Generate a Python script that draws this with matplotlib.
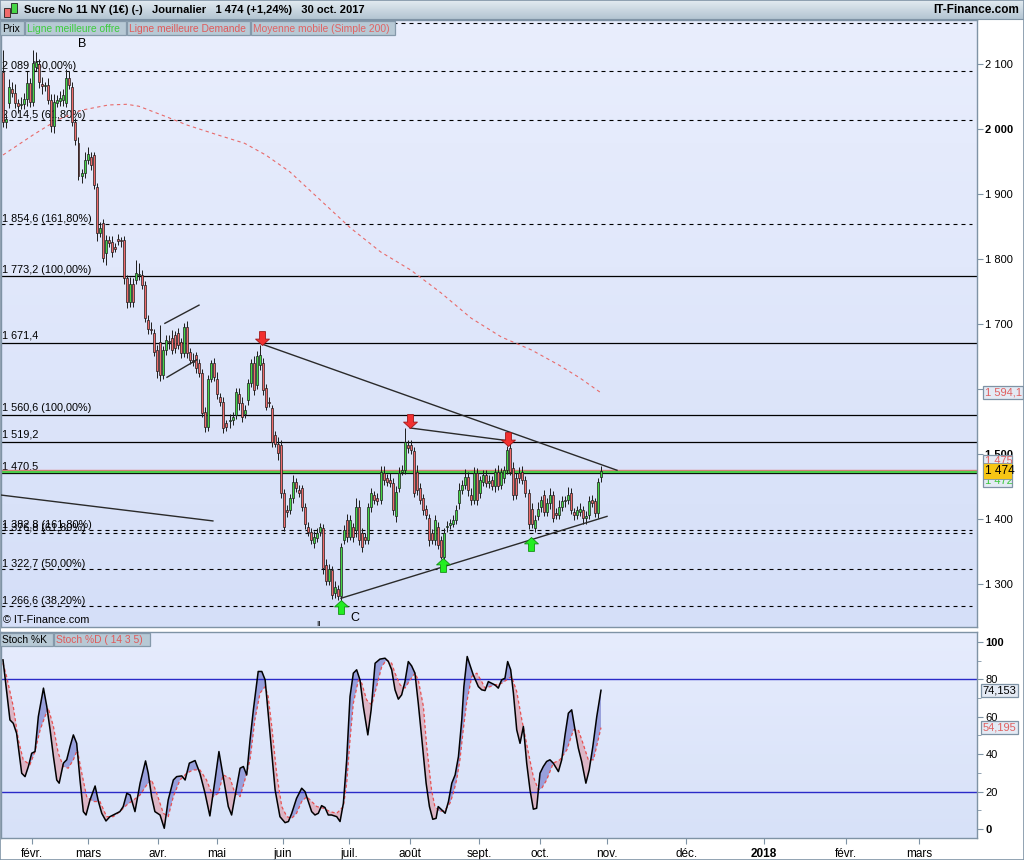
import numpy as np
import matplotlib
matplotlib.use("Agg")
import matplotlib.pyplot as plt
from matplotlib.patches import Rectangle, Polygon
from matplotlib.path import Path
from matplotlib.markers import MarkerStyle
from matplotlib.transforms import blended_transform_factory

plt.rcParams['font.family'] = ['Liberation Sans', 'DejaVu Sans']

# -- Daily candles (Sucre No 11 NY), one value per trading day --
opens = [2088, 2011, 2040, 2062, 2055, 2040, 2037, 2039, 2046, 2071,
         2042, 2096, 2100, 2070, 2066, 2067, 2045, 2004, 2040, 2043,
         2044, 2040, 2078, 2065, 2011, 1978, 1927, 1932, 1952, 1957,
         1960, 1911, 1840, 1855, 1809, 1829, 1826, 1819, 1830, 1829,
         1829, 1770, 1734, 1762, 1768, 1775, 1775, 1760, 1706, 1693,
         1686, 1660, 1673, 1621, 1660, 1673, 1678, 1683, 1686, 1673,
         1655, 1696, 1657, 1645, 1652, 1640, 1624, 1565, 1542, 1616,
         1640, 1616, 1588, 1580, 1547, 1550, 1552, 1560, 1593, 1578,
         1562, 1583, 1609, 1640, 1606, 1637, 1640, 1601, 1580, 1570,
         1529, 1516, 1514, 1440, 1414, 1414, 1432, 1457, 1445, 1447,
         1419, 1388, 1380, 1363, 1370, 1380, 1386, 1329, 1304, 1322,
         1286, 1293, 1281, 1368, 1398, 1373, 1388, 1383, 1419, 1378,
         1373, 1368, 1419, 1437, 1432, 1429, 1470, 1463, 1460, 1455,
         1404, 1447, 1473, 1475, 1514, 1514, 1504, 1473, 1447, 1432,
         1416, 1401, 1378, 1368, 1388, 1368, 1342, 1388, 1391, 1393,
         1398, 1424, 1445, 1452, 1465, 1437, 1429, 1470, 1440, 1457,
         1468, 1455, 1460, 1450, 1473, 1452, 1463, 1475, 1509, 1478,
         1463, 1470, 1473, 1460, 1440, 1416, 1386, 1404, 1419, 1437,
         1411, 1424, 1437, 1409, 1406, 1419, 1427, 1429, 1440, 1411,
         1406, 1411, 1414, 1401, 1406, 1429, 1427, 1409, 1465]
closes = [2011, 2015, 2065, 2055, 2040, 2035, 2039, 2046, 2071, 2042,
          2101, 2103, 2073, 2066, 2067, 2045, 2004, 2042, 2045, 2048,
          2052, 2078, 2068, 2011, 1983, 1927, 1932, 1952, 1962, 1945,
          1914, 1840, 1847, 1801, 1829, 1824, 1811, 1816, 1827, 1827,
          1770, 1734, 1762, 1734, 1778, 1776, 1760, 1709, 1693, 1691,
          1657, 1627, 1621, 1660, 1675, 1672, 1660, 1663, 1668, 1655,
          1696, 1655, 1645, 1642, 1632, 1624, 1563, 1542, 1616, 1640,
          1619, 1593, 1580, 1540, 1542, 1552, 1557, 1596, 1578, 1557,
          1568, 1609, 1640, 1598, 1650, 1652, 1598, 1573, 1578, 1519,
          1516, 1501, 1440, 1388, 1411, 1432, 1457, 1447, 1440, 1419,
          1393, 1380, 1368, 1373, 1378, 1388, 1324, 1304, 1323, 1283,
          1296, 1281, 1357, 1383, 1373, 1398, 1373, 1419, 1368, 1357,
          1368, 1419, 1440, 1429, 1427, 1473, 1460, 1457, 1455, 1414,
          1442, 1470, 1475, 1519, 1509, 1506, 1440, 1445, 1429, 1414,
          1406, 1368, 1368, 1398, 1360, 1342, 1378, 1389, 1394, 1398,
          1414, 1445, 1452, 1465, 1445, 1429, 1470, 1429, 1460, 1468,
          1455, 1458, 1450, 1473, 1450, 1473, 1475, 1506, 1473, 1437,
          1437, 1463, 1460, 1440, 1393, 1393, 1398, 1416, 1429, 1411,
          1424, 1437, 1401, 1406, 1419, 1427, 1429, 1437, 1414, 1406,
          1414, 1416, 1401, 1404, 1427, 1424, 1409, 1457, 1474]
wick_up = [33, 8, 12, 10, 14, 6, 10, 9, 18, 8,
           20, 15, 8, 10, 6, 12, 9, 12, 8, 10,
           10, 14, 12, 8, 6, 10, 6, 12, 10, 8,
           5, 6, 10, 6, 8, 6, 10, 6, 8, 5,
           6, 5, 10, 8, 20, 18, 8, 6, 8, 10,
           6, 8, 25, 6, 8, 10, 12, 6, 8, 5,
           6, 8, 6, 10, 5, 6, 6, 8, 6, 5,
           8, 10, 6, 8, 6, 10, 8, 6, 8, 10,
           8, 6, 6, 10, 8, 16, 8, 6, 8, 6,
           6, 10, 8, 6, 8, 6, 10, 6, 8, 6,
           6, 8, 6, 8, 8, 6, 6, 10, 8, 6,
           8, 6, 6, 8, 10, 8, 6, 14, 10, 8,
           6, 6, 8, 6, 8, 8, 12, 6, 10, 8,
           8, 10, 8, 21, 8, 8, 6, 10, 8, 6,
           6, 6, 6, 8, 8, 6, 8, 8, 6, 8,
           8, 10, 8, 12, 8, 10, 10, 8, 6, 8,
           8, 10, 6, 6, 10, 6, 6, 6, 8, 10,
           8, 10, 8, 6, 6, 8, 8, 10, 6, 8,
           8, 10, 6, 8, 10, 8, 6, 12, 8, 6,
           6, 8, 6, 8, 8, 8, 6, 6, 8]
wick_dn = [8, 10, 8, 6, 8, 10, 6, 8, 10, 8,
           6, 6, 10, 12, 8, 6, 8, 10, 6, 8,
           8, 6, 6, 6, 8, 6, 10, 8, 6, 8,
           6, 12, 6, 6, 18, 6, 8, 6, 6, 8,
           8, 10, 8, 8, 6, 8, 6, 6, 8, 6,
           6, 10, 8, 6, 8, 10, 6, 8, 6, 8,
           6, 8, 6, 6, 8, 6, 6, 8, 6, 6,
           6, 8, 6, 8, 6, 10, 8, 6, 10, 8,
           6, 8, 6, 8, 6, 8, 8, 6, 6, 8,
           6, 10, 8, 6, 8, 6, 8, 6, 6, 6,
           8, 6, 6, 8, 6, 6, 8, 6, 6, 6,
           8, 6, 8, 6, 8, 6, 8, 10, 8, 8,
           6, 6, 8, 6, 6, 6, 8, 6, 6, 8,
           8, 6, 6, 6, 8, 6, 6, 8, 6, 8,
           6, 10, 6, 8, 6, 4, 6, 8, 6, 6,
           6, 8, 6, 6, 10, 8, 6, 8, 8, 6,
           6, 8, 6, 8, 6, 6, 8, 6, 6, 8,
           6, 8, 6, 6, 8, 7, 6, 6, 8, 6,
           6, 8, 6, 6, 6, 6, 8, 6, 6, 8,
           6, 6, 8, 8, 6, 6, 6, 8, 8]

# -- Moyenne mobile (Simple 200) --
ma_bars = [0, 10, 18, 26, 35, 41, 45, 54, 61, 71, 80, 87, 95, 105, 115,
           125, 135, 145, 155, 165, 175, 184, 191, 198]
ma_vals = [1960, 1991, 2014, 2029, 2037, 2038, 2035, 2019, 2006, 1991, 1978,
           1960, 1934, 1891, 1848, 1811, 1783, 1748, 1709, 1680, 1660, 1637,
           1617, 1594.1]

# -- Horizontal levels drawn on the chart --
dashed_levels = [2163, 2089, 2014.5, 1854.6, 1382.8, 1378.6, 1322.7, 1266.6]
dashed_labels = ["", "2 089 (50,00%)", "2 014,5 (61,80%)", "1 854,6 (161,80%)",
                 "1 382,8 (161,80%)", "1 376,8 (61,80%)", "1 322,7 (50,00%)",
                 "1 266,6 (38,20%)"]
solid_levels = [1773.2, 1671.4, 1560.6, 1519.2, 1470.5]
solid_labels = ["1 773,2 (100,00%)", "1 671,4", "1 560,6 (100,00%)",
                "1 519,2", "1 470,5"]
best_ask = 1475
best_bid = 1472
last_price = 1474

# -- Trend lines (bar, price) -> (bar, price) --
trend_lines = [((85.8, 1669), (203.3, 1475)),
               ((134.8, 1540), (167.9, 1520)),
               ((111.9, 1278), (200.0, 1404)),
               ((-1.0, 1437), (69.5, 1397)),
               ((53.6, 1701), (64.9, 1729)),
               ((54.3, 1618), (64.2, 1645))]
arrow_dn_bars = [85.8, 134.8, 167.2]
arrow_dn_prices = [1667, 1540, 1512]
arrow_up_bars = [111.9, 145.7, 174.8]
arrow_up_prices = [1275, 1340, 1372]
wave_labels = ["B", "C", "II"]
wave_bars = [26.2, 116.6, 104.6]
wave_prices = [2131, 1248, 1238]

# -- Stochastique (14 3 5) --
stoch_k_bars = [0, 2.3, 3.4, 4.5, 6.2, 7.3, 8.4, 9.5, 10.6, 11.7, 13.4, 14.5, 15.6, 16.7,
                17.8, 18.6, 20.0, 21.1, 22.2, 23.3, 24.4, 25.5, 26.6, 27.5, 28.8, 30.5,
                31.6, 32.7, 34.1, 35.4, 36.5, 37.6, 38.7, 39.8, 41.0, 42.1, 43.7, 45.4,
                47.2, 48.1, 49.2, 50.3, 52.0, 53.4, 54.7, 56.4, 57.5, 59.2, 60.3, 61.7,
                63.6, 65.2, 66.9, 68.5, 70.2, 71.5, 72.9, 74.6, 75.7, 76.8, 78.5, 79.6,
                80.7, 81.8, 82.9, 84.5, 85.7, 86.8, 87.8, 89.0, 90.1, 91.7, 93.4, 94.5,
                95.6, 97.2, 98.9, 100.0, 101.1, 102.2, 103.3, 104.4, 105.5, 106.6, 107.7,
                108.8, 110.5, 111.6, 112.7, 113.8, 114.9, 116.0, 117.1, 118.2, 119.3,
                120.8, 121.9, 123.2, 124.8, 126.5, 127.6, 128.7, 129.8, 130.9, 132.0,
                133.1, 134.2, 135.3, 136.4, 137.5, 138.6, 140.1, 141.2, 142.3, 143.4,
                144.1, 145.3, 146.4, 147.5, 148.6, 149.7, 150.8, 151.9, 152.6, 153.7,
                154.6, 155.7, 157.4, 158.5, 159.6, 160.7, 161.8, 162.9, 164.0, 165.1,
                166.2, 167.1, 168.1, 169.0, 170.1, 171.2, 172.3, 173.4, 174.5, 175.6,
                176.7, 177.8, 178.9, 180.0, 181.1, 182.2, 183.9, 185.0, 186.1, 187.2,
                188.3, 189.4, 190.5, 191.6, 193.0, 194.1, 195.3, 196.6, 198.0]
stoch_k = [90.4, 58.3, 56.5, 51.2, 29.8, 28.0, 33.4, 40.5, 41.4, 60.1, 75.3, 65.5, 53.0,
           38.7, 26.2, 24.5, 35.2, 37.0, 44.1, 50.3, 45.8, 26.2, 9.3, 7.5, 15.5, 23.0,
           14.7, 8.4, 4.3, 6.6, 7.5, 8.4, 9.3, 12.0, 19.1, 18.2, 9.3, 24.5, 36.4, 29.8,
           17.3, 9.3, 7.5, 0.4, 15.5, 26.2, 28.0, 28.4, 26.2, 35.2, 36.6, 29.8, 19.1,
           7.0, 26.2, 41.4, 28.0, 12.0, 7.5, 17.3, 32.5, 33.4, 28.9, 47.6, 63.7, 84.2,
           84.2, 79.7, 61.9, 40.5, 20.9, 6.6, 3.4, 4.0, 8.4, 16.4, 21.8, 20.0, 14.7,
           9.3, 7.5, 8.4, 12.5, 11.5, 7.5, 7.5, 6.6, 4.0, 13.8, 37.0, 70.8, 83.3, 85.1,
           79.7, 65.5, 50.3, 63.7, 88.6, 90.8, 91.3, 89.5, 85.1, 74.4, 69.4, 71.7, 78.8,
           89.5, 87.2, 83.3, 67.2, 49.4, 24.5, 12.0, 5.2, 5.7, 12.0, 10.2, 8.4, 14.7,
           24.5, 28.9, 38.7, 58.3, 76.1, 92.2, 87.7, 82.4, 76.1, 74.4, 74.0, 78.8, 77.9,
           77.0, 75.3, 79.7, 80.6, 89.5, 85.1, 72.6, 53.0, 45.8, 54.8, 35.2, 20.9, 10.6,
           11.1, 29.8, 33.4, 36.1, 37.0, 35.2, 30.7, 37.0, 50.3, 61.9, 63.7, 53.0, 43.2,
           36.1, 24.5, 31.6, 44.1, 60.1, 74.153]
stoch_d_bars = [0, 1.2, 3.4, 5.1, 6.7, 8.9, 10.6, 12.3, 13.9, 15.0, 16.7, 18.3, 20.0, 21.6,
                23.3, 24.6, 26.1, 27.7, 29.9, 32.1, 34.3, 36.5, 38.7, 41.0, 43.2, 45.4,
                47.6, 49.2, 50.9, 53.1, 54.7, 56.4, 58.6, 60.8, 63.0, 65.2, 67.4, 69.6,
                71.3, 72.9, 75.2, 76.8, 78.5, 80.1, 81.8, 83.4, 85.1, 86.8, 87.8, 89.0,
                90.6, 92.3, 94.0, 95.6, 97.2, 98.9, 100.6, 102.2, 103.9, 106.1, 108.3,
                110.5, 112.7, 113.8, 114.9, 116.0, 117.7, 118.8, 120.4, 122.1, 123.7,
                125.4, 127.0, 128.7, 129.8, 131.5, 133.1, 134.8, 136.4, 137.5, 139.2,
                140.3, 141.9, 143.0, 144.7, 146.4, 148.0, 149.1, 150.2, 151.3, 152.4,
                153.5, 155.2, 156.9, 158.5, 159.6, 161.3, 162.9, 165.1, 166.8, 168.4,
                170.1, 171.8, 172.9, 174.0, 175.6, 177.3, 178.4, 180.0, 182.2, 184.4,
                186.7, 188.9, 190.5, 192.2, 193.8, 195.5, 196.8, 198.0]
stoch_d = [88.6, 81.5, 65.5, 47.6, 37.0, 34.3, 41.4, 53.0, 60.1, 64.6, 54.8, 40.5, 33.4,
           32.5, 37.0, 42.3, 29.8, 17.3, 14.7, 14.7, 6.6, 6.6, 9.3, 12.9, 15.5, 18.2,
           23.6, 26.2, 19.1, 8.4, 6.6, 17.3, 26.2, 29.8, 31.6, 31.6, 26.2, 17.3, 19.1,
           28.9, 27.1, 19.1, 17.3, 26.2, 37.0, 58.3, 72.6, 76.1, 70.8, 54.8, 29.8, 12.0,
           6.6, 5.7, 8.4, 14.7, 17.3, 14.7, 12.0, 11.1, 9.3, 8.4, 12.0, 24.5, 47.6, 67.2,
           79.7, 77.9, 69.0, 66.3, 76.1, 86.8, 90.4, 88.6, 83.3, 77.0, 75.3, 79.7, 83.3,
           79.7, 65.5, 44.1, 20.9, 12.0, 9.3, 10.2, 13.8, 19.1, 26.2, 37.0, 53.0, 67.2,
           81.5, 83.3, 78.8, 75.3, 76.1, 77.0, 77.9, 79.7, 81.5, 73.5, 58.3, 49.4, 40.5,
           28.0, 20.9, 21.8, 26.2, 35.2, 37.0, 42.3, 53.0, 53.0, 45.0, 37.0, 37.0, 45.8,
           54.195]

# -- Month ticks (bar units, future months drawn on the calendar grid) --
month_pos = [9.5, 28.1, 51.3, 70.9, 92.7, 114.6, 134.8, 157.6, 177.8, 200.0,
             226.2, 252.0, 279.1, 303.3]
month_labels = ["févr.", "mars", "avr.", "mai", "juin", "juil.", "août", "sept.",
                "oct.", "nov.", "déc.", "2018", "févr.", "mars"]

W, H = 1024, 860
FRAME = "#7f93a5"
fig = plt.figure(figsize=(W / 100, H / 100), dpi=100)


def fx(px):
    return px / W


def fy(py):
    return 1 - py / H


def gradient(rect, c_top, c_bot, z=-2):
    """ Background axes filled with a vertical colour gradient """
    bg = fig.add_axes(rect, zorder=z)
    top = np.array(matplotlib.colors.to_rgb(c_top))
    bot = np.array(matplotlib.colors.to_rgb(c_bot))
    t = np.linspace(0, 1, 64)[:, None]
    img = (top * (1 - t) + bot * t)[:, None, :]
    bg.imshow(img, aspect="auto", extent=[0, 1, 0, 1], origin="upper")
    bg.set_axis_off()
    return bg


# -- Panels --
main_rect = [fx(1), fy(627), fx(976), (627 - 20) / H]
low_rect = [fx(1), fy(838), fx(976), (838 - 632) / H]
gradient(main_rect, "#e9eefd", "#d5dff8")
gradient(low_rect, "#e6ecfd", "#d7e1f8")
gradient([0, fy(19), 1, 19 / H], "#e3ebf1", "#b3c5d2")

ax = fig.add_axes(main_rect, zorder=0)
ax2 = fig.add_axes(low_rect, zorder=0)
for a in (ax, ax2):
    a.set_facecolor("none")
    for s in a.spines.values():
        s.set_color(FRAME)
        s.set_linewidth(1)
    a.set_xlim(-0.66, 322.5)
    a.yaxis.tick_right()
    a.tick_params(axis="y", direction="out", length=4, color=FRAME, labelsize=8, pad=2)

ax.set_ylim(1233.8, 2167.7)
ax2.set_ylim(-4.8, 105.3)
ax.set_xticks([])

# -- Right price scale (1 600 sits under the moving average box) --
price_ticks = list(range(1300, 2101, 100))
ax.set_yticks(price_ticks)
ax.set_yticklabels(["" if v == 1600 else f"{v:,}".replace(",", " ") for v in price_ticks])
for lab, v in zip(ax.get_yticklabels(), price_ticks):
    if v in (1500, 2000):
        lab.set_fontweight("bold")

stoch_ticks = [0, 20, 40, 60, 80, 100]
ax2.set_yticks(stoch_ticks)
ax2.set_yticklabels([str(v) for v in stoch_ticks])
ax2.set_yticks([10, 30, 50, 70, 90], minor=True)
ax2.tick_params(axis="y", which="minor", direction="out", length=3, color=FRAME)
for lab, v in zip(ax2.get_yticklabels(), stoch_ticks):
    if v in (0, 100):
        lab.set_fontweight("bold")

ax2.set_xticks(month_pos)
ax2.set_xticklabels(month_labels)
ax2.tick_params(axis="x", direction="out", length=4, color=FRAME, labelsize=8.5, pad=3)
for lab in ax2.get_xticklabels():
    if lab.get_text() == "2018":
        lab.set_fontweight("bold")

# -- Horizontal levels with their labels --
side = blended_transform_factory(ax.transAxes, ax.transData)
for lvl, txt in zip(dashed_levels, dashed_labels):
    ax.axhline(lvl, xmax=0.995, color="black", lw=0.8, ls=(0, (3.6, 3.6)), zorder=1)
    if txt:
        ax.text(1.5 / 976, lvl, txt, transform=side, fontsize=7.8, va="bottom", ha="left", zorder=1)
for lvl, txt in zip(solid_levels, solid_labels):
    ax.axhline(lvl, color="black", lw=0.9, zorder=1)
    ax.text(1.5 / 976, lvl + 2.5, txt, transform=side, fontsize=7.8, va="bottom", ha="left", zorder=1)
ax.axhline(best_ask, color="#e07878", lw=1.0, zorder=1)
ax.axhline(best_bid, color="#4ccc4c", lw=1.6, zorder=1)

# -- Moving average --
ax.plot(ma_bars, ma_vals, color="#e86a6a", lw=0.8, ls=(0, (3, 3)), zorder=2)

# -- Candles --
x = np.arange(len(closes))
o = np.array(opens, dtype=float)
c = np.array(closes, dtype=float)
hi = np.maximum(o, c) + np.array(wick_up)
lo = np.minimum(o, c) - np.array(wick_dn)
up = c >= o
body = np.maximum(np.abs(c - o), 1.6)
ax.vlines(x, lo, hi, color="#1c1c1c", lw=0.7, zorder=3)
ax.bar(x[up], body[up], bottom=np.minimum(o, c)[up], width=0.66, color="#46d646",
       edgecolor="#1c1c1c", linewidth=0.5, zorder=4)
ax.bar(x[~up], body[~up], bottom=np.minimum(o, c)[~up], width=0.66, color="#ef6b6b",
       edgecolor="#1c1c1c", linewidth=0.5, zorder=4)

# -- Trend lines --
for (x1, y1), (x2, y2) in trend_lines:
    ax.plot([x1, x2], [y1, y2], color="#2a2a2a", lw=1.0, zorder=5)

# -- Arrows (tip of the path sits on the price) --
dn_path = Path([(0, 0), (-6.5, 6), (-2.8, 6), (-2.8, 13), (2.8, 13), (2.8, 6), (6.5, 6), (0, 0)],
               closed=True)
up_path = Path([(0, 0), (-6.5, -6), (-2.8, -6), (-2.8, -13), (2.8, -13), (2.8, -6), (6.5, -6), (0, 0)],
               closed=True)
ax.plot(arrow_dn_bars, arrow_dn_prices, ls="none", marker=MarkerStyle(dn_path), ms=20,
        mfc="#f23030", mec="#a01818", mew=0.6, zorder=6)
ax.plot(arrow_up_bars, arrow_up_prices, ls="none", marker=MarkerStyle(up_path), ms=20,
        mfc="#22ee22", mec="#129012", mew=0.6, zorder=6)

for lab, bx, py in zip(wave_labels, wave_bars, wave_prices):
    ax.text(bx, py, lab, fontsize=6 if lab == "II" else 9, ha="center", va="center", zorder=6)

# -- Stochastic panel --
kx, ky = np.array(stoch_k_bars), np.array(stoch_k)
dx, dy = np.array(stoch_d_bars), np.array(stoch_d)
below_k = np.column_stack([np.r_[kx, kx[-1], kx[0]], np.r_[ky, -50, -50]])
above_k = np.column_stack([np.r_[kx, kx[-1], kx[0]], np.r_[ky, 200, 200]])
below_d = np.column_stack([np.r_[dx, dx[-1], dx[0]], np.r_[dy, -50, -50]])
above_d = np.column_stack([np.r_[dx, dx[-1], dx[0]], np.r_[dy, 200, 200]])

# blue where %K is above %D, pink where it is below
blue = ax2.add_patch(Polygon(below_k, closed=True, facecolor="#98a0dc", edgecolor="none", zorder=1))
blue.set_clip_path(Polygon(above_d, closed=True, transform=ax2.transData))
pink = ax2.add_patch(Polygon(below_d, closed=True, facecolor="#dcb6c6", edgecolor="none", zorder=1))
pink.set_clip_path(Polygon(above_k, closed=True, transform=ax2.transData))

ax2.axhline(80, color="#2a2ac8", lw=1.0, zorder=2)
ax2.axhline(20, color="#2a2ac8", lw=1.0, zorder=2)
ax2.plot(dx, dy, color="#e85050", lw=0.9, ls=(0, (2.5, 2)), zorder=3)
ax2.plot(kx, ky, color="black", lw=1.1, zorder=4)

# -- Last value boxes on the right scale --
box_kw = dict(boxstyle="square,pad=0.15", facecolor="#e4eaf4", edgecolor=FRAME, linewidth=0.9)
side2 = blended_transform_factory(ax2.transAxes, ax2.transData)
ax.text(1.008, ma_vals[-1], f"{ma_vals[-1]:,.1f}".replace(",", " ").replace(".", ","),
        transform=side, color="#e06060", fontsize=8, va="center", ha="left",
        bbox=box_kw, clip_on=False, zorder=8)
ax2.text(1.006, stoch_k[-1], f"{stoch_k[-1]:.3f}".replace(".", ","), transform=side2,
         color="black", fontsize=8, va="center", ha="left", bbox=box_kw, clip_on=False, zorder=8)
ax2.text(1.006, stoch_d[-1], f"{stoch_d[-1]:.3f}".replace(".", ","), transform=side2,
         color="#e06060", fontsize=8, va="center", ha="left", bbox=box_kw, clip_on=False, zorder=8)


def fig_y(axis, val):
    return fig.transFigure.inverted().transform(axis.transData.transform((0, val)))[1]


yc = fig_y(ax, last_price)
fig.add_artist(Rectangle((fx(983), yc - 16 / H), fx(29), 32 / H, facecolor="#e4eaf4",
                         edgecolor=FRAME, lw=0.9, zorder=8))
fig.text(fx(985), yc + 10 / H, "1 475", color="#e06060", fontsize=8, va="center", zorder=9)
fig.text(fx(985), yc - 10 / H, "1 472", color="#3cc83c", fontsize=8, va="center", zorder=9)
fig.add_artist(Rectangle((fx(983), yc - 8 / H), fx(29), 16 / H, facecolor="#f6c514",
                         edgecolor=FRAME, lw=0.6, zorder=10))
fig.text(fx(985), yc, f"{last_price:,}".replace(",", " "), color="black", fontsize=8.5,
         va="center", zorder=11)

# -- Header --
fig.add_artist(Rectangle((fx(4), fy(17)), fx(6), 9 / H, facecolor="#ef6b6b", edgecolor="#202020", lw=0.6))
fig.add_artist(Rectangle((fx(11), fy(13)), fx(6), 10 / H, facecolor="#46d646", edgecolor="#202020", lw=0.6))
fig.text(fx(24), fy(10), "Sucre No 11 NY (1€) (-)   Journalier   1 474 (+1,24%)   30 oct. 2017",
         fontsize=8, fontweight="bold", va="center", ha="left")
fig.text(fx(1019), fy(10), "IT-Finance.com", fontsize=8.5, fontweight="bold", va="center", ha="right")


# -- Legend tabs --
def tab(x0, x1, y0, y1, text, color):
    fig.add_artist(Rectangle((fx(x0), fy(y1)), fx(x1 - x0), (y1 - y0) / H, facecolor="#b7c9d5",
                             edgecolor="#8599aa", lw=0.9, zorder=7))
    fig.text(fx(x0 + 2), fy((y0 + y1) / 2 + 0.5), text, color=color, fontsize=7.4,
             va="center", ha="left", zorder=8)


tab(0, 24, 21, 35, "Prix", "black")
tab(25, 126, 21, 35, "Ligne meilleure offre", "#3ccc3c")
tab(127, 250, 21, 35, "Ligne meilleure Demande", "#e05a5a")
tab(251, 395, 21, 35, "Moyenne mobile (Simple 200)", "#e06464")
tab(0, 53, 633, 646, "Stoch %K", "black")
tab(54, 150, 633, 646, "Stoch %D ( 14 3 5)", "#e05a5a")

fig.text(fx(3), fy(620), "© IT-Finance.com", fontsize=7.8, va="center", ha="left")
fig.add_artist(Rectangle((0, 0), 1, 1, transform=fig.transFigure, fill=False, edgecolor=FRAME, lw=1.2))
fig.add_artist(plt.Line2D([0, 1], [fy(19), fy(19)], color=FRAME, lw=0.8))

fig.savefig("out.png", dpi=100)
